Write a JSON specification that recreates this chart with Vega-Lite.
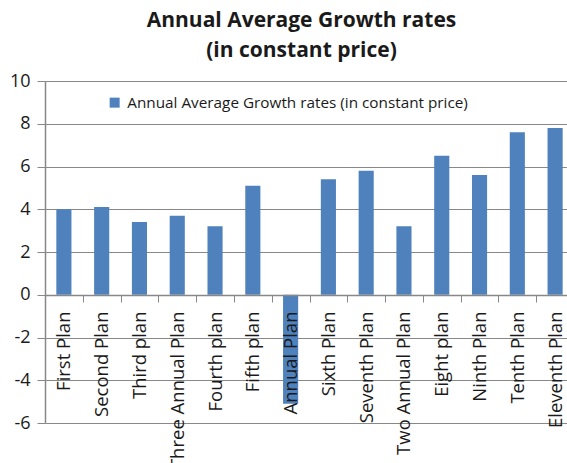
{
  "$schema": "https://vega.github.io/schema/vega-lite/v6.json",
  "autosize": "none",
  "padding": {"left": 45, "top": 81, "right": 0, "bottom": 40},
  "width": 529,
  "height": 342,
  "background": "white",
  "title": {
    "text": ["Annual Average Growth rates", "(in constant price)"],
    "font": "Open Sans",
    "fontSize": 21,
    "fontWeight": "bold",
    "color": "#1a1a1a",
    "lineHeight": 30,
    "anchor": "middle",
    "dx": -8,
    "offset": 11
  },
  "data": {
    "values": [
      {"plan": "First Plan", "value": 4.0},
      {"plan": "Second Plan", "value": 4.1},
      {"plan": "Third plan", "value": 3.4},
      {"plan": "Three Annual Plan", "value": 3.7},
      {"plan": "Fourth plan", "value": 3.2},
      {"plan": "Fifth plan", "value": 5.1},
      {"plan": "Annual Plan", "value": -5.1},
      {"plan": "Sixth Plan", "value": 5.4},
      {"plan": "Seventh Plan", "value": 5.8},
      {"plan": "Two Annual Plan", "value": 3.2},
      {"plan": "Eight plan", "value": 6.5},
      {"plan": "Ninth Plan", "value": 5.6},
      {"plan": "Tenth Plan", "value": 7.6},
      {"plan": "Eleventh Plan", "value": 7.8}
    ]
  },
  "mark": {"type": "bar", "width": {"band": 0.4}},
  "encoding": {
    "x": {
      "field": "plan",
      "type": "nominal",
      "sort": null,
      "scale": {"paddingInner": 0, "paddingOuter": 0},
      "axis": {
        "title": null,
        "orient": "bottom",
        "offset": -128,
        "zindex": 1,
        "labelAngle": -90,
        "labelAlign": "right",
        "labelBaseline": "middle",
        "labelFont": "Open Sans",
        "labelFontSize": 18.5,
        "labelColor": "#1a1a1a",
        "labelPadding": 9,
        "labelLimit": 0,
        "labelOverlap": false,
        "tickBand": "extent",
        "tickSize": 7,
        "tickColor": "#888888",
        "domainColor": "#888888",
        "domainWidth": 1.5,
        "grid": false
      }
    },
    "y": {
      "field": "value",
      "type": "quantitative",
      "scale": {"domain": [-6, 10], "nice": false, "zero": false},
      "axis": {
        "title": null,
        "values": [-6, -4, -2, 0, 2, 4, 6, 8, 10],
        "labelExpr": "datum.value < 0 ? '-' + abs(datum.value) : '' + datum.value",
        "labelFont": "Open Sans",
        "labelFontSize": 18,
        "labelColor": "#1a1a1a",
        "labelPadding": 7,
        "tickSize": 8,
        "tickColor": "#888888",
        "domainColor": "#888888",
        "domainWidth": 1.5,
        "grid": true,
        "gridColor": "#888888",
        "gridWidth": 1.2
      }
    },
    "color": {
      "datum": "Annual Average Growth rates (in constant price)",
      "scale": {"range": ["#4f81bd"]},
      "legend": {
        "title": null,
        "orient": "none",
        "legendX": 62,
        "legendY": 14,
        "padding": 0,
        "symbolType": "square",
        "symbolSize": 100,
        "symbolStrokeWidth": 0,
        "labelFont": "Open Sans",
        "labelFontSize": 15.3,
        "labelLimit": 0,
        "labelColor": "#1a1a1a",
        "labelOffset": 5
      }
    }
  },
  "config": {"view": {"stroke": null}}
}
